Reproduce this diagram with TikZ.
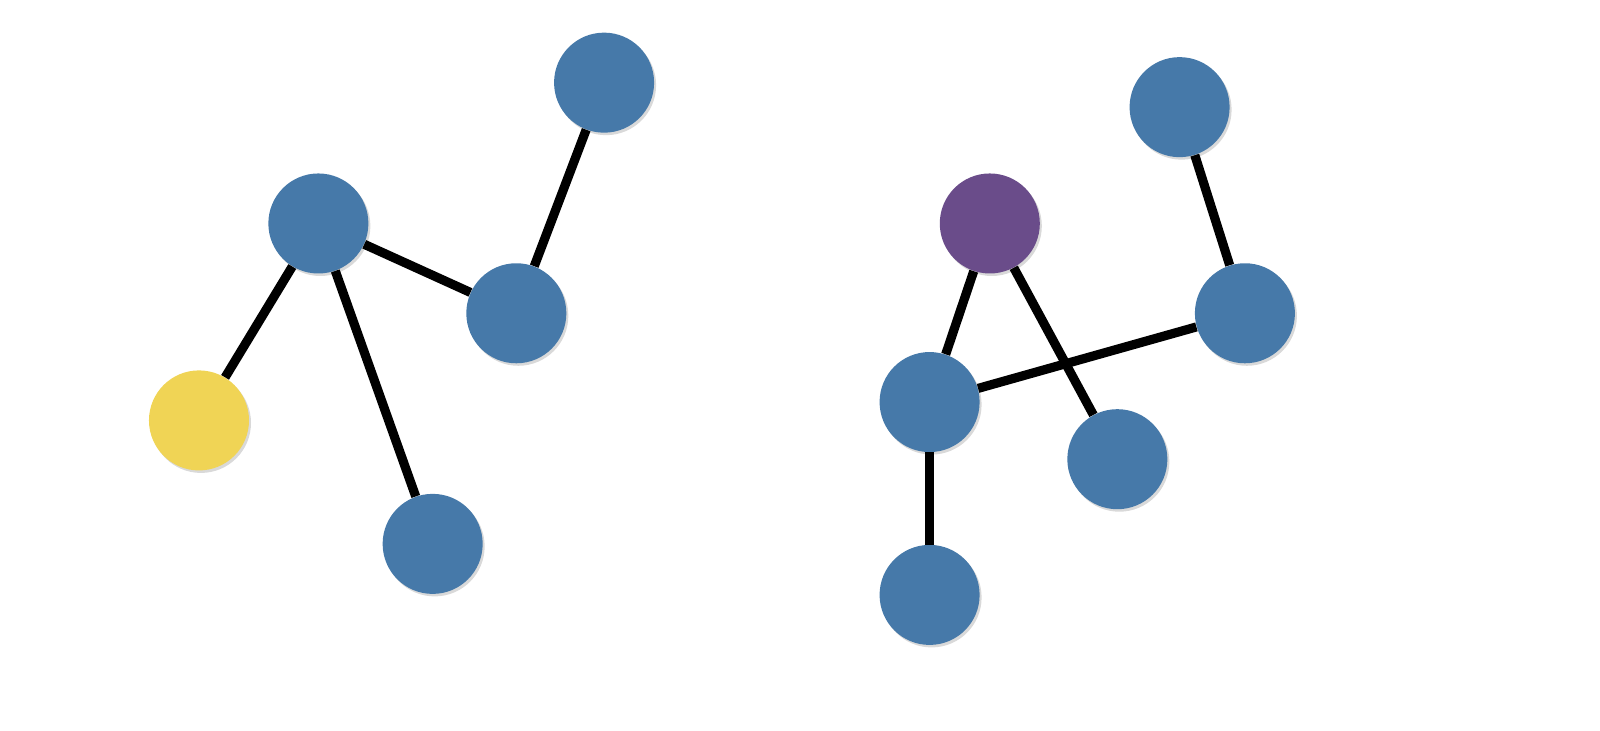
\documentclass[tikz,border=0pt]{standalone}
\usepackage{tikz}
\usetikzlibrary{shadows}
\definecolor{vblue}{HTML}{4679A9}
\definecolor{vyellow}{HTML}{F0D455}
\definecolor{vpurple}{HTML}{6A4C8A}
\tikzstyle{vertex}=[circle, fill=vblue, minimum size=2cm, inner sep=0,
  drop shadow={opacity=0.3, shadow xshift=0.04cm, shadow yshift=-0.05cm}]
\tikzstyle{edge}=[line width=5.2pt, black]

\begin{document}
\begin{tikzpicture}[x=0.020408cm, y=-0.020408cm]
    \useasboundingbox (0, 0) rectangle (1568, 715.4);
    % left tree
    \node[vertex] (a) at (312, 219) {};
    \node[vertex] (b) at (506, 307) {};
    \node[vertex] (c) at (592, 81) {};
    \node[vertex, fill=vyellow] (d) at (195, 412) {};
    \node[vertex] (e) at (424, 533) {};
    \draw[edge] (a) -- (b);
    \draw[edge] (b) -- (c);
    \draw[edge] (a) -- (d);
    \draw[edge] (a) -- (e);
    % right tree
    \node[vertex, fill=vpurple] (p) at (970, 219) {};
    \node[vertex] (q) at (1156, 105) {};
    \node[vertex] (r) at (1220, 307) {};
    \node[vertex] (s) at (911, 394) {};
    \node[vertex] (t) at (1095, 450) {};
    \node[vertex] (u) at (911, 583) {};
    \draw[edge] (p) -- (s);
    \draw[edge] (p) -- (t);
    \draw[edge] (s) -- (r);
    \draw[edge] (q) -- (r);
    \draw[edge] (s) -- (u);
\end{tikzpicture}
\end{document}
